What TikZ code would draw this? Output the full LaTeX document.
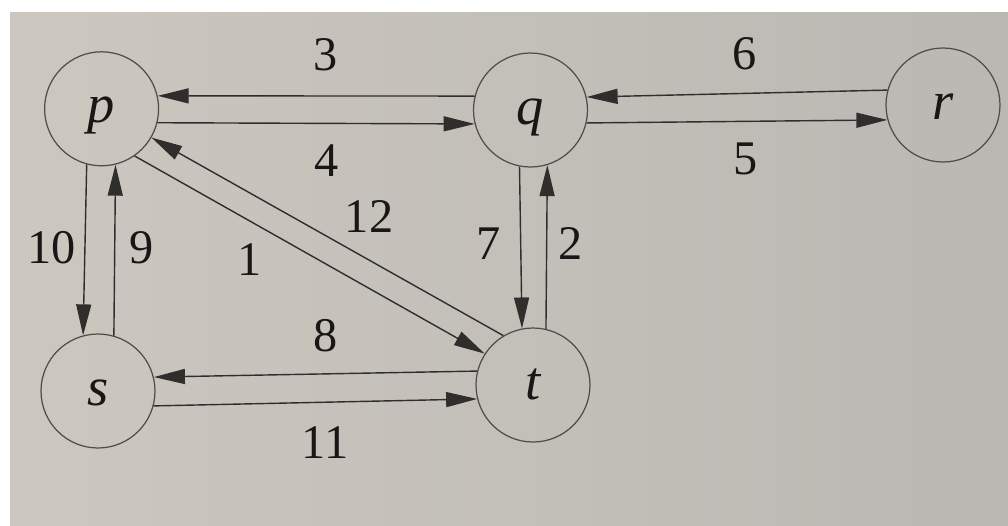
\documentclass[tikz,border=0pt]{standalone}
\usepackage{fontspec}
\setmainfont{Liberation Serif}
\usetikzlibrary{arrows.meta}
\definecolor{paperL}{RGB}{204,199,191}
\definecolor{paperR}{RGB}{186,184,179}
\definecolor{ink}{RGB}{25,22,22}
\definecolor{circ}{RGB}{80,76,74}
\begin{document}
\begin{tikzpicture}[x=0.02cm,y=-0.02cm,
 vtx/.style={circle,draw=circ,line width=0.7pt,minimum size=2.28cm,inner sep=0pt,text height=16pt,text depth=0pt,font=\fontsize{31}{31}\selectfont\itshape,text=ink},
 edge/.style={draw=ink!90,line width=0.8pt,-{Triangle[length=0.62cm,width=0.3cm]}},
 lbl/.style={font=\fontsize{27.5}{28}\selectfont,text=ink}]
\fill[white] (0,0) rectangle (1008,525);
\shade[left color=paperL,right color=paperR] (10,12) rectangle (1008,525);
\useasboundingbox (0,0) rectangle (1008,525);
% vertices
\node[vtx] (p) at (101.6,108.8) {p};
\node[vtx] (q) at (530.5,110) {q};
\node[vtx] (r) at (943,105) {r};
\node[vtx] (s) at (98,391) {s};
\node[vtx] (t) at (533,385) {t};
% edges
\draw[edge] (q.166) -- (p.13);
\draw[edge] (p.-14) -- (q.194);
\draw[edge] (r.165) -- (q.13);
\draw[edge] (q.-13) -- (r.195);
\draw[edge] (p.255) -- (s.105);
\draw[edge] (s.74) -- (p.284);
\draw[edge] (q.259) -- (t.101);
\draw[edge] (t.77) -- (q.287);
\draw[edge] (p.-55) -- (t.147);
\draw[edge] (t.121) -- (p.-30);
\draw[edge] (t.166) -- (s.14);
\draw[edge] (s.-15) -- (t.194);
% labels
\node[lbl] (l3) at (326,54.5) {3};
\node[lbl] (l4) at (326.5,160.5) {4};
\node[lbl] (l6) at (745,53.5) {6};
\node[lbl] (l5) at (746,158.5) {5};
\node[lbl] (l12) at (369,216.5) {12};
\node[lbl] (l10) at (51.5,247.5) {10};
\node[lbl] (l9) at (141.5,247.5) {9};
\node[lbl] (l1) at (249.5,259.5) {1};
\node[lbl] (l7) at (489,243.5) {7};
\node[lbl] (l2) at (571,243.5) {2};
\node[lbl] (l8) at (326,335.5) {8};
\node[lbl] (l11) at (325,442.5) {11};
\end{tikzpicture}
\end{document}
